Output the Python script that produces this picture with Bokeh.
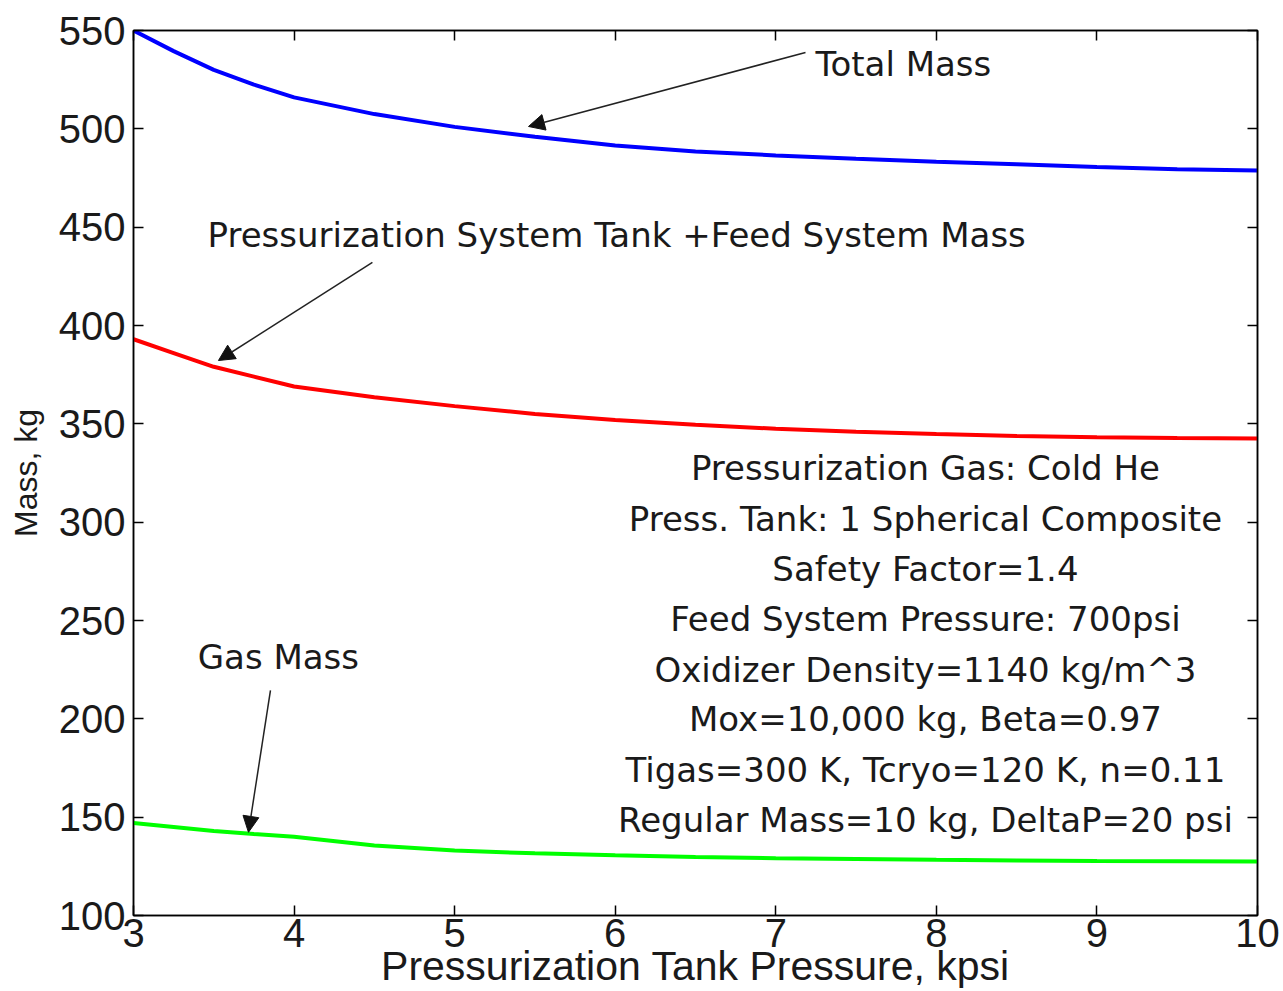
from bokeh.plotting import figure
from bokeh.models import LinearAxis, Label, Arrow, NormalHead, FixedTicker
from bokeh.embed import file_html
from bokeh.resources import INLINE

# ---- data ----
pressure_kpsi = [3.0, 3.25, 3.5, 3.75, 4.0, 4.5, 5.0, 5.5, 6.0, 6.5, 7.0, 7.5, 8.0, 8.5, 9.0, 9.5, 10.0]
total_mass = [550, 539.5, 530, 522.5, 516, 507.5, 501, 496, 491.5, 488.5, 486.5, 484.8, 483.3, 482, 480.6, 479.5, 478.8]
press_feed_mass = [393, 386, 379, 374, 369, 363.5, 359, 355, 352, 349.5, 347.5, 346, 344.8, 343.8, 343.2, 342.8, 342.5]
gas_mass = [147, 145, 143, 141.4, 140, 135.6, 133, 131.6, 130.6, 129.8, 129.1, 128.7, 128.3, 128, 127.7, 127.6, 127.5]

x_ticks = [3, 4, 5, 6, 7, 8, 9, 10]
y_ticks = [100, 150, 200, 250, 300, 350, 400, 450, 500, 550]

info_lines = [
    "Pressurization Gas: Cold He",
    "Press. Tank: 1 Spherical Composite",
    "Safety Factor=1.4",
    "Feed System Pressure: 700psi",
    "Oxidizer Density=1140 kg/m^3",
    "Mox=10,000 kg, Beta=0.97",
    "Tigas=300 K, Tcryo=120 K, n=0.11",
    "Regular Mass=10 kg, DeltaP=20 psi",
]
info_y = [327.3, 301.4, 276.0, 250.6, 225.0, 199.7, 173.8, 148.4]

AX_FONT = "Liberation Sans"
ANN_FONT = "DejaVu Sans"
TXT = "#1a1a1a"

p = figure(width=1283, height=991, x_range=(3, 10), y_range=(100, 550),
           output_backend="svg", toolbar_location=None,
           min_border_left=133, min_border_right=26, min_border_top=30, min_border_bottom=76,
           x_axis_location=None, y_axis_location=None)
p.grid.visible = False
p.outline_line_color = "black"
p.outline_line_width = 1.5
p.background_fill_color = "white"
p.border_fill_color = "white"

bottom = LinearAxis(axis_label="Pressurization Tank Pressure, kpsi")
left = LinearAxis(axis_label="Mass, kg")
top = LinearAxis()
right = LinearAxis()
p.add_layout(bottom, "below")
p.add_layout(left, "left")
p.add_layout(top, "above")
p.add_layout(right, "right")

for ax in (bottom, top):
    ax.ticker = FixedTicker(ticks=x_ticks)
for ax in (left, right):
    ax.ticker = FixedTicker(ticks=y_ticks)

for ax in (bottom, left, top, right):
    ax.major_tick_in = 10
    ax.major_tick_out = 0
    ax.minor_tick_line_color = None
    ax.axis_line_color = "black"
    ax.axis_line_width = 1.5
    ax.major_tick_line_color = "black"
    ax.major_tick_line_width = 1.5
    ax.major_label_text_font = AX_FONT
    ax.major_label_text_font_size = "40px"
    ax.major_label_text_color = TXT
    ax.axis_label_text_font = AX_FONT
    ax.axis_label_text_font_style = "normal"
    ax.axis_label_text_color = TXT

# mirrored axes: ticks only, labels not painted
for ax in (top, right):
    ax.major_label_text_color = None
    ax.major_label_text_font_size = "1px"
    ax.major_label_standoff = 0

bottom.major_label_standoff = 3
bottom.axis_label_text_font_size = "41px"
bottom.axis_label_standoff = -7

left.major_label_standoff = 8
left.axis_label_text_font_size = "32px"
left.axis_label_standoff = 12

# ---- curves ----
p.line(pressure_kpsi, total_mass, line_color="#0000ff", line_width=4)
p.line(pressure_kpsi, press_feed_mass, line_color="#ff0000", line_width=4)
p.line(pressure_kpsi, gas_mass, line_color="#00ff00", line_width=4)

# ---- annotations ----
def ann(x, y, text, align="left"):
    p.add_layout(Label(x=x, y=y, text=text, text_font=ANN_FONT, text_font_size="34px",
                       text_color=TXT, text_align=align, text_baseline="middle"))

ann(7.247, 533.2, "Total Mass")
ann(3.461, 445.8, "Pressurization System Tank +Feed System Mass")
ann(3.40, 231.2, "Gas Mass")
for t, yy in zip(info_lines, info_y):
    ann(7.932, yy, t, align="center")

def arrow(xs, ys, xe, ye):
    p.add_layout(Arrow(x_start=xs, y_start=ys, x_end=xe, y_end=ye,
                       line_color="#222222", line_width=1.5,
                       end=NormalHead(size=16, fill_color="#111111", line_color="#111111", line_width=1)))

arrow(7.185, 538.8, 5.46, 501.2)
arrow(4.488, 432.1, 3.529, 382.2)
arrow(3.853, 214.5, 3.716, 142.3)

open("out.html", "w").write(file_html(p, INLINE))
